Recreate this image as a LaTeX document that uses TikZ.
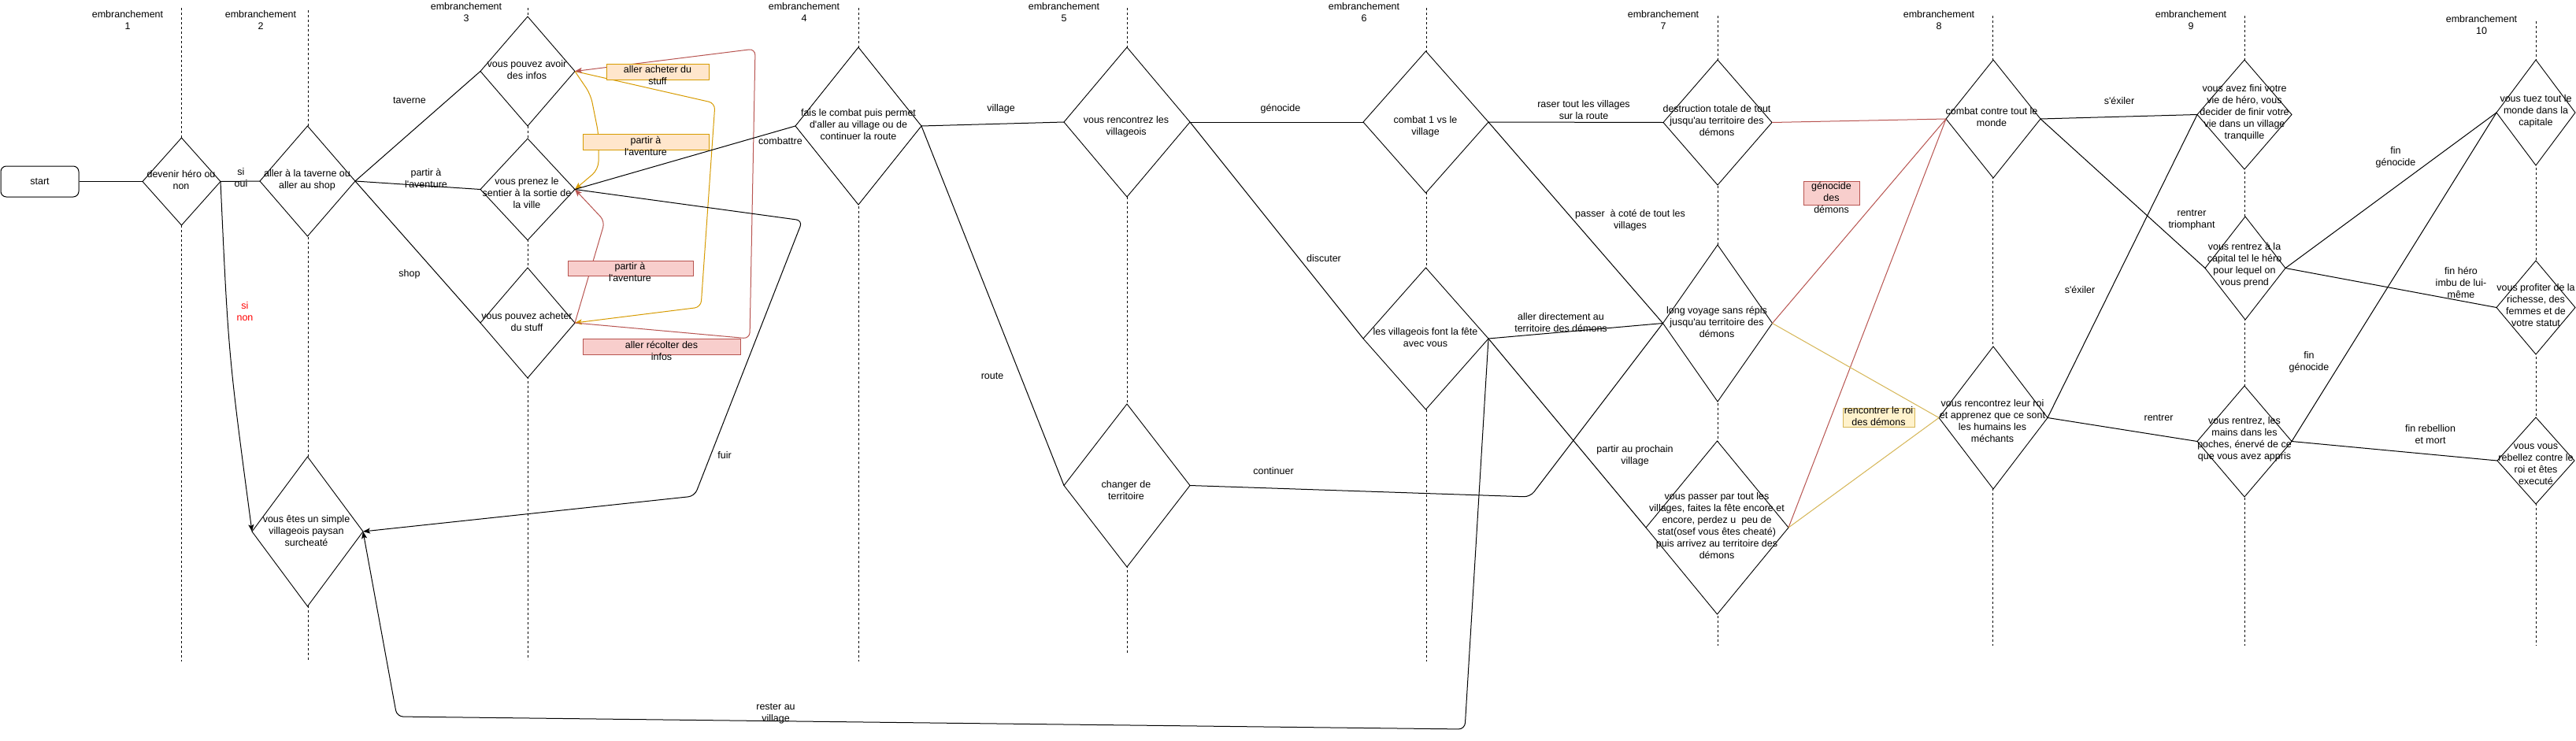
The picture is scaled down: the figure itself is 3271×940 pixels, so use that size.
\documentclass[tikz,border=0pt]{standalone}
\usepackage{fontspec}
\setmainfont{Liberation Sans}[Ligatures=TeXOff]
\usetikzlibrary{shapes.geometric,arrows.meta}
\definecolor{ostroke}{HTML}{D79B00}
\definecolor{ofill}{HTML}{FFE6CC}
\definecolor{rstroke}{HTML}{B85450}
\definecolor{rfill}{HTML}{F8CECC}
\definecolor{ystroke}{HTML}{D6B656}
\definecolor{yfill}{HTML}{FFF2CC}
\definecolor{rtext}{HTML}{FF0000}
\begin{document}
\begin{tikzpicture}[x=1pt,y=-1pt,
  dia/.style 2 args={diamond, draw=black, line width=0.9pt, fill=white, inner sep=0pt, outer sep=0pt, minimum width=#1pt, minimum height=#2pt},
  txt/.style={align=center, inner sep=0pt, font=\fontsize{12.5}{15}\selectfont},
  conn/.style={draw=black, line width=1pt},
  oconn/.style={draw=ostroke, line width=1pt},
  rconn/.style={draw=rstroke, line width=1pt},
  yconn/.style={draw=ystroke, line width=1pt},
  arr/.style={-{Stealth[length=9pt,width=7pt,inset=2pt]}},
  lane/.style={draw=black, line width=0.9pt, dash pattern=on 3pt off 3pt},
  box/.style 2 args={draw=#1, fill=#2, line width=1pt, inner sep=0pt, outer sep=0pt},
]
\fill[white] (0,0) rectangle (3271,940);
\useasboundingbox (0,0) rectangle (3271,940);

% lanes
\foreach \i/\x/\a/\b in {1/230/10/840, 2/391/13/840, 3/670/10/838, 4/1090/10/840, 5/1431/10/830,
  6/1811/10/840, 7/2181/20/820, 8/2530/20/820, 9/2850/20/820, 10/3220/27/820} {
  \coordinate (l\i t) at (\x,\a);
  \coordinate (l\i b) at (\x,\b);
  \draw[lane] (l\i t) -- (l\i b);
}
% lane titles
\foreach \i/\x/\y in {1/162/25.5, 2/331/25.5, 3/592/15.5, 4/1021/15.5, 5/1351/15.5,
  6/1732/15.5, 7/2112/25.5, 8/2462/25.5, 9/2782/25.5, 10/3151/31.5} {
  \node[txt] (e\i) at (\x,\y) {embranchement\\\i};
}

% start
\node[draw, line width=1pt, rounded corners=7pt, minimum width=99pt, minimum height=39pt, txt] (start) at (50.5,230.5) {start};

% diamonds
\node[dia={99}{111}] (d1) at (230.5,230.5) {};
\node[dia={121}{140}] (d2) at (390.5,230) {};
\node[dia={141}{190}] (vil) at (390.5,675) {};
\node[dia={120}{139}] (infos) at (670,90.5) {};
\node[dia={120}{129}] (sentier) at (670,240.5) {};
\node[dia={120}{140}] (stuff) at (670,410) {};
\node[dia={160}{200}] (c4) at (1090,160) {};
\node[dia={160}{190}] (renc) at (1431,155) {};
\node[dia={160}{207}] (chang) at (1431,616.5) {};
\node[dia={159}{180}] (c1v) at (1810.5,155) {};
\node[dia={159}{180}] (fete) at (1810.5,430) {};
\node[dia={138}{159}] (destr) at (2181,155.5) {};
\node[dia={139}{199}] (voyage) at (2181,410.5) {};
\node[dia={181}{220}] (passer) at (2180.5,670) {};
\node[dia={120}{150}] (monde) at (2531,151) {};
\node[dia={138}{181}] (roi) at (2531,530.5) {};
\node[dia={120}{139}] (fini) at (2850,145.5) {};
\node[dia={102}{131}] (capital) at (2851,340.5) {};
\node[dia={120}{141}] (mains) at (2850,560.5) {};
\node[dia={100}{134}] (tuez) at (3220,143) {};
\node[dia={100}{119}] (profiter) at (3220,390.5) {};
\node[dia={98}{110}] (rebel) at (3220,585) {};

% connectors
\draw[conn] (start.east) -- (d1.west);
\draw[conn] (d1.east) -- (d2.west);
\draw[conn,arr] (d1.east) .. controls (290,450) .. (vil.west);
\draw[conn] (d2.east) -- (infos.west);
\draw[conn] (d2.east) -- (sentier.west);
\draw[conn] (d2.east) -- (stuff.west);
\draw[oconn,arr,rounded corners=10pt] (infos.east) -- (750,120) -- (760,170) -- (760,215) -- (sentier.east);
\draw[oconn,arr,rounded corners=8pt] (infos.east) -- (908,131) -- (890,390) -- (stuff.east);
\draw[rconn,arr,rounded corners=8pt] (stuff.east) -- (952,430) -- (959,62) -- (infos.east);
\draw[rconn,arr,rounded corners=8pt] (stuff.east) -- (768,281) -- (sentier.east);
\draw[conn] (sentier.east) -- (c4.west);
\draw[conn,arr,rounded corners=8pt] (sentier.east) -- (1019,280) -- (882,630) -- (vil.east);
\draw[conn] (c4.east) -- (renc.west);
\draw[conn] (c4.east) -- (chang.west);
\draw[conn] (renc.east) -- (c1v.west);
\draw[conn] (renc.east) -- (fete.west);
\draw[conn,rounded corners=8pt] (chang.east) -- (1943,631) -- (voyage.west);
\draw[conn] (c1v.east) -- (destr.west);
\draw[conn] (c1v.east) -- (voyage.west);
\draw[conn] (fete.east) -- (voyage.west);
\draw[conn] (fete.east) -- (passer.west);
\draw[conn,arr,rounded corners=8pt] (fete.east) -- (1860,926) -- (504,910) -- (vil.east);
\draw[rconn] (destr.east) -- (monde.west);
\draw[rconn] (voyage.east) -- (monde.west);
\draw[rconn] (passer.east) -- (monde.west);
\draw[yconn] (voyage.east) -- (roi.west);
\draw[yconn] (passer.east) -- (roi.west);
\draw[conn] (monde.east) -- (fini.west);
\draw[conn] (monde.east) -- (capital.west);
\draw[conn] (roi.east) -- (fini.west);
\draw[conn] (roi.east) -- (mains.west);
\draw[conn] (capital.east) -- (tuez.west);
\draw[conn] (capital.east) -- (profiter.west);
\draw[conn] (mains.east) -- (tuez.west);
\draw[conn] (mains.east) -- (rebel.west);

% coloured boxes
\node[box={ostroke}{ofill}, minimum width=130pt, minimum height=20pt] (b1) at (835,91) {};
\node[box={ostroke}{ofill}, minimum width=160pt, minimum height=20pt] (b2) at (820,180) {};
\node[box={rstroke}{rfill}, minimum width=159pt, minimum height=19pt] (b3) at (800.5,340.5) {};
\node[box={rstroke}{rfill}, minimum width=200pt, minimum height=20pt] (b4) at (840,440) {};
\node[box={rstroke}{rfill}, minimum width=71pt, minimum height=30pt] (b5) at (2325.5,245) {};
\node[box={ystroke}{yfill}, minimum width=91pt, minimum height=24pt] (b6) at (2385.5,530) {};
\node[txt] (b1-t) at (835,95.5) {aller acheter du\\stuff};
\node[txt] (b2-t) at (820,185.5) {partir à\\l'aventure};
\node[txt] (b3-t) at (800,345) {partir à\\l'aventure};
\node[txt] (b4-t) at (840,445) {aller récolter des\\infos};
\node[txt] (b5-t) at (2325.5,250.5) {génocide\\des\\démons};
\node[txt] (b6-t) at (2385.5,528.5) {rencontrer le roi\\des démons};

% diamond texts
\node[txt] (d1-t) at (230,228.5) {devenir héro ou\\non};
\node[txt] (d2-t) at (390,228.5) {aller à la taverne ou\\aller au shop};
\node[txt] (vil-t) at (389,674) {vous êtes un simple\\villageois paysan\\surcheaté};
\node[txt] (infos-t) at (669,88.5) {vous pouvez avoir\\des infos};
\node[txt] (sentier-t) at (669,245) {vous prenez le\\sentier à la sortie de\\la ville};
\node[txt] (stuff-t) at (669,408.5) {vous pouvez acheter\\du stuff};
\node[txt] (c4-t) at (1090,158.5) {fais le combat puis permet\\d'aller au village ou de\\continuer la route};
\node[txt] (renc-t) at (1430,160.5) {vous rencontrez les\\villageois};
\node[txt] (chang-t) at (1430,622.5) {changer de\\territoire};
\node[txt] (c1v-t) at (1810,160.5) {combat 1 vs le\\village};
\node[txt] (fete-t) at (1810,428.5) {les villageois font la fête\\avec vous};
\node[txt] (destr-t) at (2180,153) {destruction totale de tout\\jusqu'au territoire des\\démons};
\node[txt] (voyage-t) at (2180,409) {long voyage sans répis\\jusqu'au territoire des\\démons};
\node[txt] (passer-t) at (2180,667.5) {vous passer par tout les\\villages, faites la fête encore et\\encore, perdez u\ \ peu de\\stat(osef vous êtes cheaté)\\puis arrivez au territoire des\\démons};
\node[txt] (monde-t) at (2529,148.5) {combat contre tout le\\monde};
\node[txt] (roi-t) at (2530,535) {vous rencontrez leur roi\\et apprenez que ce sont\\les humains les\\méchants};
\node[txt] (fini-t) at (2850,143) {vous avez fini votre\\vie de héro, vous\\decider de finir votre\\vie dans un village\\tranquille};
\node[txt] (capital-t) at (2850,337) {vous rentrez à la\\capital tel le héro\\pour lequel on\\vous prend};
\node[txt] (mains-t) at (2850,557.5) {vous rentrez, les\\mains dans les\\poches, énervé de ce\\que vous avez appris};
\node[txt] (tuez-t) at (3220,141) {vous tuez tout le\\monde dans la\\capitale};
\node[txt] (profiter-t) at (3220,387.5) {vous profiter de la\\richesse, des\\femmes et de\\votre statut};
\node[txt] (rebel-t) at (3220,590) {vous vous\\rebellez contre le\\roi et êtes\\executé};

% edge labels
\node[txt] (lb1) at (306,226) {si\\oui};
\node[txt, text=rtext] (lb2) at (311,396) {si\\non};
\node[txt] (lb3) at (520,128) {taverne};
\node[txt] (lb4) at (541,226) {partir à\\l'aventure};
\node[txt] (lb5) at (520,348) {shop};
\node[txt] (lb6) at (991,179) {combattre};
\node[txt] (lb7) at (1271,138) {village};
\node[txt] (lb8) at (1260,478) {route};
\node[txt] (lb9) at (920,578) {fuir};
\node[txt] (lb10) at (985,906) {rester au\\village};
\node[txt] (lb11) at (1626,138) {génocide};
\node[txt] (lb12) at (1681,328) {discuter};
\node[txt] (lb13) at (1617,598) {continuer};
\node[txt] (lb14) at (2011,139.5) {raser tout les villages\\sur la route};
\node[txt] (lb15) at (2070,279.5) {passer\ \ à coté de tout les\\villages};
\node[txt] (lb16) at (1982,409.5) {aller directement au\\territoire des démons};
\node[txt] (lb17) at (2076,579) {partir au prochain\\village};
\node[txt] (lb18) at (2691,128) {s'éxiler};
\node[txt] (lb19) at (2783,279.5) {rentrer\\triomphant};
\node[txt] (lb20) at (2641,368) {s'éxiler};
\node[txt] (lb21) at (2741,531) {rentrer};
\node[txt] (lb22) at (3042,199.5) {fin\\génocide};
\node[txt] (lb23) at (3125,359) {fin héro\\imbu de lui-\\même};
\node[txt] (lb24) at (2932,459.5) {fin\\génocide};
\node[txt] (lb25) at (3086,552) {fin rebellion\\et mort};
\end{tikzpicture}
\end{document}
